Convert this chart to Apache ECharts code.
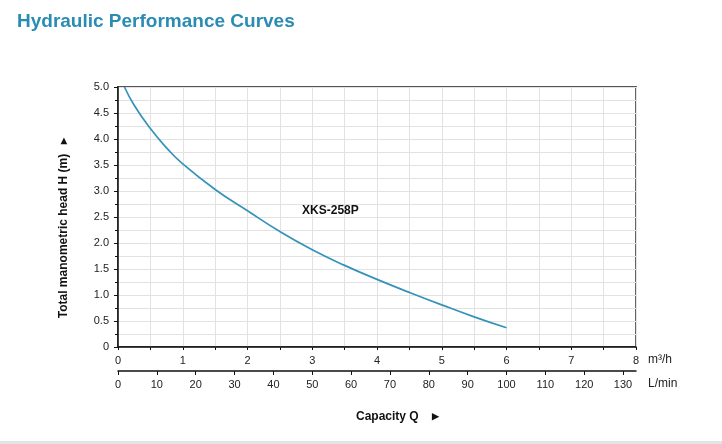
<!DOCTYPE html>
<html>
<head>
<meta charset="utf-8">
<script src="https://cdn.jsdelivr.net/npm/echarts@6/dist/echarts.min.js"></script>
<style>
  html, body { margin: 0; padding: 0; background: #fff; }
  #chart { width: 722px; height: 444px; }
</style>
</head>
<body>
<div id="chart"></div>
<script>
// capacity Q (m3/h) and head H (m)
var flowM3h = [0.1, 0.25, 0.5, 0.75, 1, 1.5, 2, 2.5, 3, 3.5, 4, 4.5, 5, 5.5, 6];
var headM = [5.0, 4.65, 4.2, 3.83, 3.52, 3.03, 2.62, 2.22, 1.87, 1.57, 1.30, 1.05, 0.81, 0.58, 0.37];
var lminTicks = [0, 10, 20, 30, 40, 50, 60, 70, 80, 90, 100, 110, 120, 130];
var modelName = 'XKS-258P';

var curve = flowM3h.map(function (q, i) { return [q, headM[i]]; });
var font = 'Liberation Sans, Arial, sans-serif';

var chart = echarts.init(document.getElementById('chart'), null, { renderer: 'canvas' });
var option = {
  animation: false,
  textStyle: { fontFamily: font },
  title: [{
    text: 'Hydraulic Performance Curves',
    left: 12, top: 7,
    textStyle: { fontSize: 19, fontWeight: 'bold', color: '#2b8cb3', fontFamily: font }
  }, {
    // x axis caption, sits below both scales
    text: 'Capacity Q    {t|▶}',
    left: 351, top: 406,
    textStyle: {
      fontSize: 12, fontWeight: 'bold', color: '#111', fontFamily: font,
      rich: { t: { fontSize: 9, color: '#111' } }
    }
  }],
  grid: {
    left: 118, top: 87, right: 86, bottom: 97,
    show: true, borderColor: '#555', borderWidth: 1.8
  },
  xAxis: [{
    type: 'value',
    min: 0, max: 8, interval: 1,
    name: 'm³/h',
    nameLocation: 'end',
    nameGap: 12,
    nameTextStyle: { fontSize: 12, color: '#222', verticalAlign: 'top', padding: [7, 0, 0, 0] },
    axisLine: { show: true, onZero: false, lineStyle: { color: '#111', width: 1.5 } },
    axisTick: { show: true, length: 3, lineStyle: { color: '#111' } },
    minorTick: { show: true, splitNumber: 2, length: 3, lineStyle: { color: '#111' } },
    axisLabel: { fontSize: 11, color: '#222', margin: 8 },
    splitLine: { show: true, lineStyle: { color: '#e2e2e2', width: 1 } },
    minorSplitLine: { show: true, lineStyle: { color: '#e2e2e2', width: 1 } }
  }, {
    type: 'value',
    position: 'bottom',
    offset: 24,
    min: 0, max: 400 / 3, interval: 10,
    name: 'L/min',
    nameLocation: 'end',
    nameGap: 12,
    nameTextStyle: { fontSize: 12, color: '#222', verticalAlign: 'top', padding: [7, 0, 0, 0] },
    axisLine: { show: true, onZero: false, lineStyle: { color: '#111', width: 1.5 } },
    axisTick: { show: true, length: 4, customValues: lminTicks, lineStyle: { color: '#111' } },
    axisLabel: {
      fontSize: 11, color: '#222', margin: 8, customValues: lminTicks,
      formatter: function (v) { return v % 10 === 0 ? v : ''; }
    },
    splitLine: { show: false }
  }],
  yAxis: {
    type: 'value',
    min: 0, max: 5, interval: 0.5,
    name: 'Total manometric head H (m)   {t|▶}',
    nameLocation: 'middle',
    nameGap: 48,
    nameRotate: 90,
    nameTextStyle: {
      fontSize: 12, fontWeight: 'bold', color: '#111', padding: [0, 22, 0, 0],
      rich: { t: { fontSize: 8, color: '#111' } }
    },
    axisLine: { show: true, onZero: false, lineStyle: { color: '#111', width: 1.5 } },
    axisTick: { show: true, length: 4, lineStyle: { color: '#111' } },
    minorTick: { show: true, splitNumber: 2, length: 3, lineStyle: { color: '#111' } },
    axisLabel: {
      fontSize: 11, color: '#222', margin: 9,
      formatter: function (v) { return v === 0 ? '0' : v.toFixed(1); }
    },
    splitLine: { show: true, lineStyle: { color: '#e2e2e2', width: 1 } },
    minorSplitLine: { show: true, lineStyle: { color: '#e2e2e2', width: 1 } }
  },
  series: [{
    name: modelName,
    type: 'line',
    smooth: true,
    symbol: 'none',
    data: curve,
    lineStyle: { color: '#3592b8', width: 1.7 },
    markPoint: {
      symbol: 'circle', symbolSize: 0,
      label: {
        show: true, formatter: modelName, position: 'inside',
        fontSize: 12, fontWeight: 'bold', color: '#111', fontFamily: font
      },
      data: [{ coord: [3.28, 2.62] }]
    }
  }],
  graphic: [{
    type: 'rect',
    left: 0, top: 441,
    shape: { width: 722, height: 3 },
    style: { fill: '#e4e4e4' }
  }]
};
chart.setOption(option);
</script>
</body>
</html>
